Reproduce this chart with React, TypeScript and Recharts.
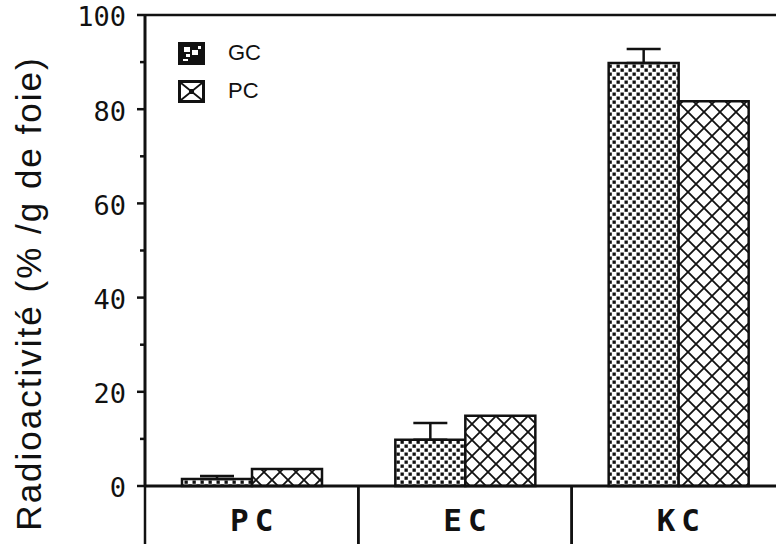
import { Bar, BarChart, ErrorBar, Legend, ReferenceLine, XAxis, YAxis } from 'recharts';

const CATEGORIES = ['PC', 'EC', 'KC'];
const GC_VALUES = [1.5, 9.8, 89.8];
const GC_ERRORS = [0.6, 3.6, 3.0];
const PC_VALUES = [3.6, 14.9, 81.7];
const Y_TICKS = [0, 10, 20, 30, 40, 50, 60, 70, 80, 90, 100];
const Y_LABEL = 'Radioactivité  (% /g de foie)';

const INK = '#111';
const CHART_WIDTH = 785;
const CHART_HEIGHT = 544;

const data = CATEGORIES.map((name, i) => ({
  name,
  gc: GC_VALUES[i],
  gcErr: [0, GC_ERRORS[i]],
  pc: PC_VALUES[i],
}));

// stipple squares for GC, diagonal cross-hatch for PC
function Patterns() {
  return (
    <defs>
      <pattern id="dots" width={8} height={8} patternUnits="userSpaceOnUse">
        <rect width={8} height={8} fill="#fff" />
        <rect x={0.5} y={0.5} width={3.3} height={3.3} fill={INK} />
        <rect x={4.5} y={4.5} width={3.3} height={3.3} fill={INK} />
      </pattern>
      <pattern id="hatch" width={16} height={16} patternUnits="userSpaceOnUse">
        <rect width={16} height={16} fill="#fff" />
        <path
          d="M0,0 L16,16 M16,0 L0,16 M-4,4 L4,-4 M12,20 L20,12 M-4,12 L4,20 M12,-4 L20,4"
          stroke={INK}
          strokeWidth={1.8}
        />
      </pattern>
    </defs>
  );
}

function YTick({ x, y, payload }: any) {
  const v = payload.value as number;
  const major = v % 20 === 0;
  return (
    <g>
      <line x1={x - (major ? 8 : 5)} x2={x} y1={y} y2={y} stroke={INK} strokeWidth={2.5} />
      {major && (
        <text
          x={x - 19}
          y={y}
          dy="0.42em"
          textAnchor="end"
          fontFamily='"DejaVu Sans Mono", monospace'
          fontSize={27}
          fill={INK}
        >
          {v}
        </text>
      )}
    </g>
  );
}

function XTick({ x, y, payload }: any) {
  const half = payload.offset ?? (CHART_WIDTH - 145) / CATEGORIES.length / 2;
  return (
    <g>
      <line x1={x - half} x2={x - half} y1={y} y2={y + 80} stroke={INK} strokeWidth={2.5} />
      <line x1={x + half} x2={x + half} y1={y} y2={y + 80} stroke={INK} strokeWidth={2.5} />
      <text
        x={x + 3}
        y={y + 45}
        textAnchor="middle"
        fontFamily='"DejaVu Sans Mono", monospace'
        fontWeight="bold"
        fontSize={31}
        letterSpacing={6}
        fill={INK}
      >
        {payload.value}
      </text>
    </g>
  );
}

function YLabel({ viewBox }: any) {
  const cx = viewBox.x + 41;
  const cy = viewBox.y + viewBox.height / 2 + 43;
  return (
    <text
      transform={`translate(${cx}, ${cy}) rotate(-90)`}
      textAnchor="middle"
      fontFamily='"Liberation Sans", Arial, sans-serif'
      fontSize={35}
      letterSpacing={2}
      fill={INK}
    >
      {Y_LABEL}
    </text>
  );
}

function Swatch({ kind }: { kind: string }) {
  if (kind === 'gc') {
    return (
      <svg width={27} height={23}>
        <rect x={0} y={0} width={27} height={23} fill={INK} />
        <rect x={6} y={5} width={6} height={5} fill="#fff" />
        <rect x={14} y={8} width={6} height={5} fill="#fff" />
        <rect x={8} y={12} width={4} height={3} fill="#fff" />
        <rect x={20} y={4} width={3} height={3} fill="#fff" />
        <rect x={5} y={17} width={5} height={2} fill="#fff" />
      </svg>
    );
  }
  return (
    <svg width={27} height={23}>
      <rect x={1.5} y={1.5} width={24} height={20} fill="#fff" stroke={INK} strokeWidth={3} />
      <path d="M3,3 L24,20 M24,3 L3,20" stroke={INK} strokeWidth={1.8} />
      <rect x={11} y={9} width={5} height={5} fill={INK} />
    </svg>
  );
}

function renderLegend({ payload }: any) {
  return (
    <div>
      {(payload ?? []).map((entry: any) => (
        <div
          key={entry.value}
          style={{ display: 'flex', alignItems: 'center', height: 38 }}
        >
          <Swatch kind={entry.dataKey} />
          <span
            style={{
              marginLeft: 23,
              fontFamily: '"Liberation Sans", Arial, sans-serif',
              fontSize: 22,
              color: INK,
            }}
          >
            {entry.value}
          </span>
        </div>
      ))}
    </div>
  );
}

export default function App() {
  return (
    <div
      style={{
        position: 'fixed',
        left: 0,
        top: 0,
        width: 776,
        height: 544,
        overflow: 'hidden',
        background: '#fff',
      }}
    >
      <BarChart
        width={CHART_WIDTH}
        height={CHART_HEIGHT}
        data={data}
        margin={{ top: 15, right: 0, bottom: 0, left: 0 }}
        barGap={0}
      >
        <Patterns />
        <XAxis
          dataKey="name"
          height={58}
          axisLine={{ stroke: INK, strokeWidth: 3 }}
          tickLine={false}
          tickSize={0}
          tickMargin={0}
          tick={<XTick />}
          interval={0}
        />
        <YAxis
          width={145}
          domain={[0, 100]}
          ticks={Y_TICKS}
          interval={0}
          tickSize={0}
          tickMargin={0}
          tickLine={false}
          axisLine={{ stroke: INK, strokeWidth: 3 }}
          tick={<YTick />}
          label={{ content: <YLabel /> }}
        />
        <ReferenceLine y={100} stroke={INK} strokeWidth={2.5} />
        <Legend
          layout="vertical"
          align="center"
          verticalAlign="middle"
          width={120}
          wrapperStyle={{ top: 34, left: 178, width: 120 }}
          content={renderLegend}
        />
        <Bar
          dataKey="gc"
          name="GC"
          fill="url(#dots)"
          stroke={INK}
          strokeWidth={2.5}
          barSize={70}
          isAnimationActive={false}
        >
          <ErrorBar
            dataKey="gcErr"
            direction="y"
            width={17}
            stroke={INK}
            strokeWidth={2.5}
            isAnimationActive={false}
          />
        </Bar>
        <Bar
          dataKey="pc"
          name="PC"
          fill="url(#hatch)"
          stroke={INK}
          strokeWidth={2.5}
          barSize={70}
          isAnimationActive={false}
        />
      </BarChart>
    </div>
  );
}
